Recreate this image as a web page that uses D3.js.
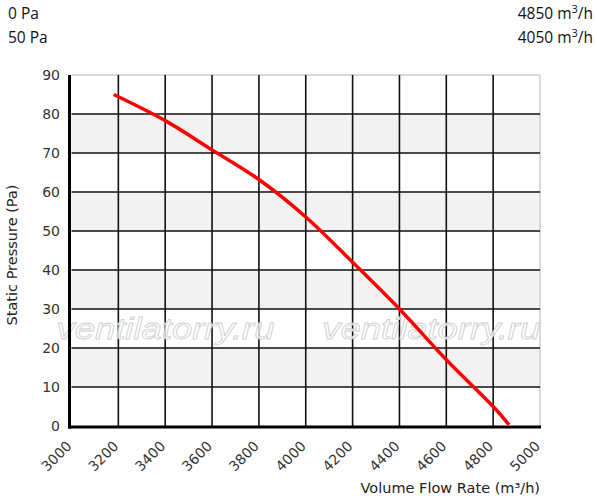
<!DOCTYPE html>
<html><head><meta charset="utf-8">
<script src="https://cdn.jsdelivr.net/npm/d3@7"></script>
<style>body{margin:0;background:#fff}svg{display:block}</style>
</head><body><svg id="c" width="597" height="500"></svg>
<script>
const flow = [3180, 3400, 3600, 3800, 4000, 4200, 4400, 4600, 4800, 4868];
const pressure = [85, 78.3, 70.8, 63.2, 53.6, 42, 30, 17, 5, 0.3];
const xTicks = [3000, 3200, 3400, 3600, 3800, 4000, 4200, 4400, 4600, 4800, 5000];
const yTicks = [0, 10, 20, 30, 40, 50, 60, 70, 80, 90];
const headerLeft = ["0 Pa", "50 Pa"];
const headerRight = ["4850", "4050"];
const xTitle = "Volume Flow Rate (m³/h)";
const yTitle = "Static Pressure (Pa)";
const watermark = "ventilatorry.ru";

const svg = d3.select("#c");
const x = d3.scaleLinear().domain([3000, 5000]).range([71.5, 540]);
const y = d3.scaleLinear().domain([0, 90]).range([426, 75]);

// bands
const bands = yTicks.slice(0, -1).filter((d, i) => i % 2 === 1);
svg.selectAll("rect.band").data(bands).enter().append("rect")
  .attr("x", x(3000)).attr("width", x(5000) - x(3000))
  .attr("y", d => y(d + 10)).attr("height", d => y(d) - y(d + 10))
  .attr("fill", "#f2f2f2");

// borders top/right
svg.append("line").attr("x1", x(3000)).attr("x2", x(5000)).attr("y1", y(90)).attr("y2", y(90))
  .attr("stroke", "#d9d9d9").attr("stroke-width", 2);
svg.append("line").attr("x1", x(5000)).attr("x2", x(5000)).attr("y1", y(90)).attr("y2", y(0))
  .attr("stroke", "#d9d9d9").attr("stroke-width", 2);

// grid
svg.selectAll("line.vg").data(xTicks.slice(1, -1)).enter().append("line")
  .attr("x1", d => x(d)).attr("x2", d => x(d)).attr("y1", y(90)).attr("y2", y(0))
  .attr("stroke", "#111").attr("stroke-width", 1.6);
svg.selectAll("line.hg").data(yTicks.slice(1, -1)).enter().append("line")
  .attr("x1", x(3000)).attr("x2", x(5000)).attr("y1", d => y(d)).attr("y2", d => y(d))
  .attr("stroke", "#111").attr("stroke-width", 1.6);

// watermark
[x(3000) - 15, x(4100) - 7].forEach(px => {
  svg.append("text").attr("x", px).attr("y", 339)
    .attr("font-family", "Liberation Sans, Arial, sans-serif").attr("font-style", "italic")
    .attr("font-size", 30).attr("textLength", 218).attr("lengthAdjust", "spacingAndGlyphs")
    .attr("fill", "#ffffff").attr("fill-opacity", 0.8).attr("stroke", "#cfcfcf").attr("stroke-width", 0.8)
    .text(watermark);
});

// axes lines
svg.append("line").attr("x1", 69.5).attr("x2", 69.5).attr("y1", y(90)).attr("y2", y(0) + 2.5)
  .attr("stroke", "#000").attr("stroke-width", 3);
svg.append("line").attr("x1", 68).attr("x2", x(5000) + 1).attr("y1", y(0) + 1).attr("y2", y(0) + 1)
  .attr("stroke", "#000").attr("stroke-width", 3);

// curve
svg.append("path").datum(flow.map((f, i) => [f, pressure[i]]))
  .attr("d", d3.line().x(d => x(d[0])).y(d => y(d[1])).curve(d3.curveCatmullRom.alpha(0.5)))
  .attr("fill", "none").attr("stroke", "#ff0000").attr("stroke-width", 3.5)
  .attr("stroke-linecap", "butt");

// y tick labels
svg.selectAll("text.yt").data(yTicks).enter().append("text")
  .attr("x", 60).attr("y", d => y(d)).attr("dy", "0.36em").attr("text-anchor", "end")
  .attr("font-family", "DejaVu Sans, sans-serif").attr("font-size", 14).attr("fill", "#333")
  .text(d => d);

// x tick labels
svg.selectAll("text.xt").data(xTicks).enter().append("text")
  .attr("transform", d => `translate(${x(d) + 1},${447}) rotate(-45)`)
  .attr("text-anchor", "end")
  .attr("font-family", "DejaVu Sans, sans-serif").attr("font-size", 14).attr("fill", "#333")
  .text(d => d);

// titles
svg.append("text").attr("x", 540).attr("y", 493).attr("text-anchor", "end")
  .attr("font-family", "DejaVu Sans, sans-serif").attr("font-size", 14.5).attr("fill", "#222")
  .text(xTitle);
svg.append("text").attr("transform", "translate(17,255) rotate(-90)").attr("text-anchor", "middle")
  .attr("font-family", "DejaVu Sans, sans-serif").attr("font-size", 14.5).attr("fill", "#222")
  .text(yTitle);

// header
headerLeft.forEach((t, i) => {
  svg.append("text").attr("x", 8).attr("y", 19 + i * 24)
    .attr("font-family", "Open Sans, sans-serif").attr("font-size", 15.5).attr("fill", "#111").text(t);
});
headerRight.forEach((t, i) => {
  const tx = svg.append("text").attr("x", 593).attr("y", 19 + i * 24).attr("text-anchor", "end")
    .attr("font-family", "Open Sans, sans-serif").attr("font-size", 15.5).attr("fill", "#111");
  tx.append("tspan").text(t + " m");
  tx.append("tspan").attr("dy", -6).attr("font-size", 11).text("3");
  tx.append("tspan").attr("dy", 6).text("/h");
});
</script></body></html>
